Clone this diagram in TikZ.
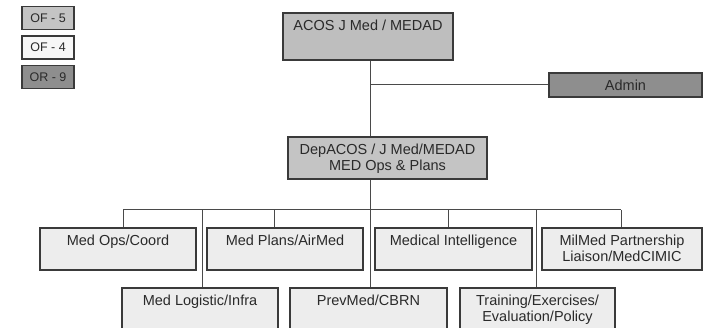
\documentclass[tikz,border=0pt]{standalone}
\usepackage{fontspec}
\setmainfont{Liberation Sans}
\definecolor{edgec}{HTML}{3A3A3A}
\definecolor{linec}{HTML}{4A4A4A}
\definecolor{txtc}{HTML}{2A2A2A}
\definecolor{ofive}{HTML}{C4C4C4}
\definecolor{ofour}{HTML}{EDEDED}
\definecolor{ofourleg}{HTML}{F7F7F7}
\definecolor{ornine}{HTML}{8E8E8E}
\tikzset{
  unitbox/.style={draw=edgec, line width=1.2pt, rectangle, inner sep=0pt, text=txtc},
  bigtxt/.style={font=\fontsize{14.5}{16}\selectfont, align=center},
  toplbl/.style={bigtxt, text=txtc, anchor=north, inner sep=0pt, yshift=-7pt},
  legbox/.style={unitbox, minimum width=52pt, minimum height=23pt, font=\fontsize{12.5}{14}\selectfont},
  conn/.style={draw=linec, line width=1pt},
}
\begin{document}
\begin{tikzpicture}[x=1pt,y=-1pt]
\useasboundingbox (0,0) rectangle (703,328);
\clip (0,0) rectangle (703,328);
% legend
\node[legbox, fill=ofive] (l5) at (48,18) {OF - 5};
\node[legbox, fill=ofourleg] (l4) at (48,47.5) {OF - 4};
\node[legbox, fill=ornine] (l9) at (48,77) {OR - 9};
% main boxes
\node[unitbox, fill=ofive!97!black, minimum width=170pt, minimum height=47pt,
  label={[toplbl]north:ACOS J Med / MEDAD}] (acos) at (368,36.5) {};
\node[unitbox, fill=ornine, minimum width=153pt, minimum height=24pt, bigtxt] (admin) at (625.5,85) {Admin};
\node[unitbox, fill=ofive, minimum width=199pt, minimum height=42pt,
  label={[toplbl]north:DepACOS / J Med/MEDAD\\MED Ops \& Plans}] (dep) at (387.5,158) {};
% row 1
\node[unitbox, fill=ofour, minimum width=156pt, minimum height=42pt,
  label={[toplbl]north:Med Ops/Coord}] (ops) at (118,249) {};
\node[unitbox, fill=ofour, minimum width=156pt, minimum height=42pt,
  label={[toplbl]north:Med Plans/AirMed}] (plans) at (285,249) {};
\node[unitbox, fill=ofour, minimum width=157pt, minimum height=42pt,
  label={[toplbl]north:Medical Intelligence}] (intel) at (453.5,249) {};
\node[unitbox, fill=ofour, minimum width=160pt, minimum height=42pt,
  label={[toplbl]north:MilMed Partnership\\Liaison/MedCIMIC}] (mil) at (622,249) {};
% row 2
\node[unitbox, fill=ofour, minimum width=156pt, minimum height=42pt,
  label={[toplbl]north:Med Logistic/Infra}] (logi) at (200,309) {};
\node[unitbox, fill=ofour, minimum width=157pt, minimum height=42pt,
  label={[toplbl]north:PrevMed/CBRN}] (prev) at (368.5,309) {};
\node[unitbox, fill=ofour, minimum width=155pt, minimum height=42pt,
  label={[toplbl]north:Training/Exercises/\\Evaluation/Policy}] (train) at (537.5,309) {};
% connectors
\coordinate (jadm) at (370,85);
\coordinate (busL) at (123,210);
\coordinate (busR) at (621,210);
\coordinate (bus) at (370,210);
\draw[conn] (acos.south -| bus) -- (dep.north -| bus);
\draw[conn] (jadm) -- (admin.west);
\draw[conn] (dep.south -| bus) -- (bus);
\draw[conn] (busL) -- (busR);
\draw[conn] (busL) -- (busL |- ops.north);
\draw[conn] (274,210) coordinate (tp) -- (tp |- plans.north);
\draw[conn] (448,210) coordinate (ti) -- (ti |- intel.north);
\draw[conn] (busR) -- (busR |- mil.north);
\draw[conn] (202,210) coordinate (tl) -- (tl |- logi.north);
\draw[conn] (bus) -- (bus |- prev.north);
\draw[conn] (536,210) coordinate (tt) -- (tt |- train.north);
\end{tikzpicture}
\end{document}
